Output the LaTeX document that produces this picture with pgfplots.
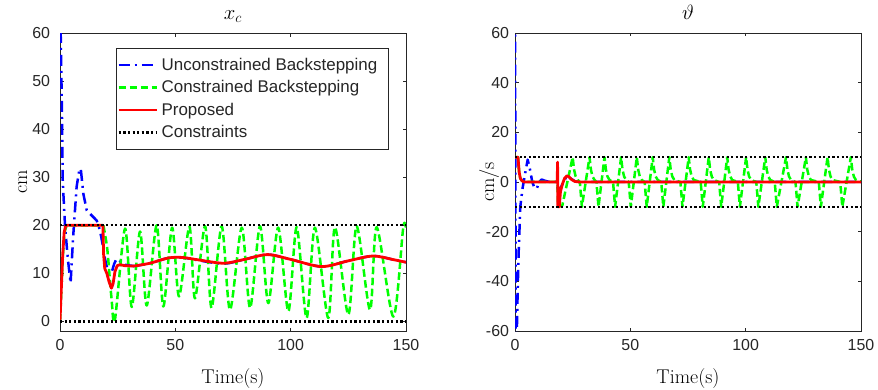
\documentclass[border=0pt]{standalone}
\usepackage{fontspec}
\usepackage{pgfplots}
\pgfplotsset{compat=1.18}
\newfontfamily\arial{Liberation Sans}
\definecolor{mblue}{rgb}{0,0,1}
\definecolor{mgreen}{rgb}{0,1,0}
\definecolor{mred}{rgb}{1,0,0}
\definecolor{axgray}{gray}{0.15}
\pgfplotsset{
 mystyle/.style={
  scale only axis, width=346bp, height=298bp,
  xmin=0, xmax=150, xtick={0,50,100,150},
  tick align=inside, major tick length=3.5bp,
  axis line style={axgray, line width=0.6bp},
  major tick style={axgray, line width=0.6bp},
  tick label style={font=\arial\fontsize{16}{19}\selectfont, text=axgray},
  /pgf/number format/assume math mode=true,
  xticklabel style={yshift=-4.5bp},
  xlabel={Time(s)},
  xlabel style={font=\fontsize{20}{24}\selectfont, at={(axis description cs:0.5,0)}, anchor=base, yshift=-52bp},
  title style={font=\fontsize{20}{24}\selectfont, at={(axis description cs:0.5,1)}, anchor=base, yshift=8bp},
  ylabel style={font=\fontsize{20}{24}\selectfont, anchor=base},
 },
 ublue/.style={mblue, line width=2.5bp, line join=round, dash pattern=on 11bp off 5bp on 2bp off 5bp},
 cgreen/.style={mgreen, line width=2.5bp, line join=round, dash pattern=on 7.5bp off 3.5bp},
 pred/.style={mred, line width=2.8bp, line join=round},
 cons/.style={black, line width=2.4bp, dash pattern=on 2.2bp off 2.4bp},
}
\begin{document}
\begin{tikzpicture}
\begin{axis}[mystyle, at={(0bp,0bp)}, anchor=south west,
  ymin=-2, ymax=60, ytick={0,10,20,30,40,50,60},
  yticklabel style={xshift=-6.5bp},
  title={$x_c$}, ylabel={cm},
  ylabel style={at={(axis description cs:-0.095,0.5)}},
  legend style={at={(axis description cs:0.951,0.950)}, anchor=north east, draw=axgray, line width=0.6bp, fill=white,
    font=\arial\fontsize{17}{20}\selectfont, text=axgray, inner xsep=1bp, inner ysep=8bp, row sep=4.7bp,
    nodes={inner xsep=3.5bp, inner ysep=2bp}},
  legend cell align=left,
  legend image code/.code={\path[draw=none,fill=none] (0bp,-6bp) rectangle (38bp,1.4bp); \draw[#1] (0bp,0bp) -- (38bp,0bp);},
]
\addplot[ublue] coordinates {(0,65)(0.3,60)(0.8,45)(1.2,29)(2.2,19.7)(3.4,13)(4.6,8)(5.7,17.6)(7.2,28)(8.3,31.3)(9,31.8)(10.1,26.6)(11.6,23.1)(13,22.4)(15.9,21)(17.3,19)(18.5,16)(19.5,13)(21,10)(22.3,10)(23.5,12)(24.5,13)(26,12.5)(28,11.8)(32,11.5)};
\addlegendentry{Unconstrained Backstepping\vphantom{Bp}\hspace*{7bp}}
\addplot[ublue, smooth, forget plot] coordinates {(32,11.5)(39,12.1)(47,13.2)(53,13.3)(60,12.7)(71,12.0)(80,12.9)(90,13.9)(100,12.9)(113.4,11.4)(125,12.6)(135.7,13.6)(145,12.8)(150,12.3)};
\addplot[cgreen, forget plot] coordinates {(0,0)(0.5,5.5)(1.3,14)(2,18.7)(2.8,19.8)(3.5,20)(18.8,20)};
\addplot[cgreen, smooth] coordinates {(18.8,20)(20.5,15)(22.3,5)(23.8,0.3)(28.2,19.3)(31.1,3)(34.7,18.7)(37.6,3.3)(41.9,20)(44.8,3.1)(48.6,19.5)(51.6,5.2)(56.1,19.7)(58.5,4.8)(62.9,19.8)(65.7,2.8)(70.1,19.8)(73.7,2.4)(78.8,19.5)(82.4,2.8)(86.7,19.8)(90.3,3.8)(94.6,19.5)(99,2.1)(102.6,19.6)(106.9,0.7)(110.5,19.5)(116.3,0.7)(119.2,19.6)(125,1.4)(128.6,19.8)(134.4,2.4)(137.3,19.6)(144.5,1)(148.8,19.5)(150,19.2)};
\addlegendentry{Constrained Backstepping\vphantom{Bp}}
\addplot[pred] coordinates {(0,0)(0.5,6)(1.2,14)(1.8,18.5)(2.4,19.8)(3,20)(18.6,20)(18.9,14)(19.4,11)(20.3,10)(21.3,8.2)(22.3,6.9)(23,7.8)(23.8,10.3)(24.8,11.6)(26,11.8)(28,11.6)(32,11.5)};
\addlegendentry{Proposed\vphantom{Bp}}
\addplot[pred, smooth, forget plot] coordinates {(32,11.5)(39,12.1)(47,13.2)(53,13.3)(60,12.8)(71,12.1)(80,12.9)(90,13.9)(100,12.9)(113.4,11.4)(125,12.6)(135.7,13.6)(145,12.8)(150,12.3)};
\addplot[cons] coordinates {(0,20)(150,20)};
\addlegendentry{Constraints\vphantom{Bp}}
\addplot[cons, forget plot] coordinates {(0,0)(150,0)};
\end{axis}
\begin{axis}[mystyle, at={(455bp,0bp)}, anchor=south west,
  ymin=-60, ymax=60, ytick={-60,-40,-20,0,20,40,60},
  yticklabel style={xshift=-2.5bp},
  title={$\vartheta$}, ylabel={cm/s},
  ylabel style={at={(axis description cs:-0.0605,0.5)}},
]
\addplot[ublue] coordinates {(0,75)(0.35,-75)(0.8,-60)(1.2,-42)(1.6,-28)(2.3,-10)(3.2,-3)(4.3,3)(5.5,9)(6.5,5)(7.5,0)(8.5,-2.5)(9.5,-2.5)(10.5,0)(11.5,1)(13,0.5)(15,0)(18,0)(18.6,-3)(19.5,-3)(21,0)(22.5,2.5)(24,1.5)(26,0.3)(28,0)(150,0)};
\addplot[cgreen] coordinates {(0,10)(1.3,10)(1.8,4)(2.3,1.5)(3,0.5)(4,0)(18.4,0)(18.7,-10)(20.5,-9.5)
(25.0,10)(25.6,5)(26.3,2.2)(27.2,0.8)(28.1,0)(29.0,-10)
(32.3,10)(32.9,5)(33.6,2.2)(34.5,0.8)(35.3,0)(36.2,-10)
(38.8,10)(39.4,5)(40.1,2.2)(41.0,0.8)(42.5,0)(43.4,-10)
(46.0,10)(46.6,5)(47.3,2.2)(48.2,0.8)(49.3,0)(50.2,-10)
(52.8,10)(53.4,5)(54.1,2.2)(55.0,0.8)(56.2,0)(57.1,-10)
(59.7,10)(60.3,5)(61.0,2.2)(61.9,0.8)(63.4,0)(64.3,-10)
(66.9,10)(67.5,5)(68.2,2.2)(69.1,0.8)(71.7,0)(72.6,-10)
(75.3,10)(75.9,5)(76.6,2.2)(77.5,0.8)(80.5,0)(81.4,-10)
(84.0,10)(84.6,5)(85.3,2.2)(86.2,0.8)(88.5,0)(89.4,-10)
(92.0,10)(92.6,5)(93.3,2.2)(94.2,0.8)(96.6,0)(97.5,-10)
(100.2,10)(100.8,5)(101.5,2.2)(102.4,0.8)(104.6,0)(105.5,-10)
(108.5,10)(109.1,5)(109.8,2.2)(110.7,0.8)(112.6,0)(113.5,-10)
(117.5,10)(118.1,5)(118.8,2.2)(119.7,0.8)(121.6,0)(122.5,-10)
(126.1,10)(126.7,5)(127.4,2.2)(128.3,0.8)(131.7,0)(132.6,-10)
(135.5,10)(136.1,5)(136.8,2.2)(137.7,0.8)(141.0,0)(141.9,-10)
(145.6,10)(146.2,5)(146.9,2.2)(147.8,0.8)(150,0.2)};
\addplot[pred] coordinates {(0,10)(1.3,10)(1.8,4)(2.3,1.5)(3,0.5)(4,0)(18.3,0)(18.45,8)(18.6,-10)(18.8,-2)(18.95,-10)(19.2,-10)(19.7,-4)(20.5,-1)(21.5,1.5)(22.5,2.5)(23.5,2)(24.5,1)(26,0.2)(28,0)(150,0)};
\addplot[cons] coordinates {(0,10)(150,10)};
\addplot[cons] coordinates {(0,-10)(150,-10)};
\end{axis}
\pgfresetboundingbox
\path[use as bounding box] (-60bp,-59bp) rectangle (818bp,331bp);
\end{tikzpicture}
\end{document}
